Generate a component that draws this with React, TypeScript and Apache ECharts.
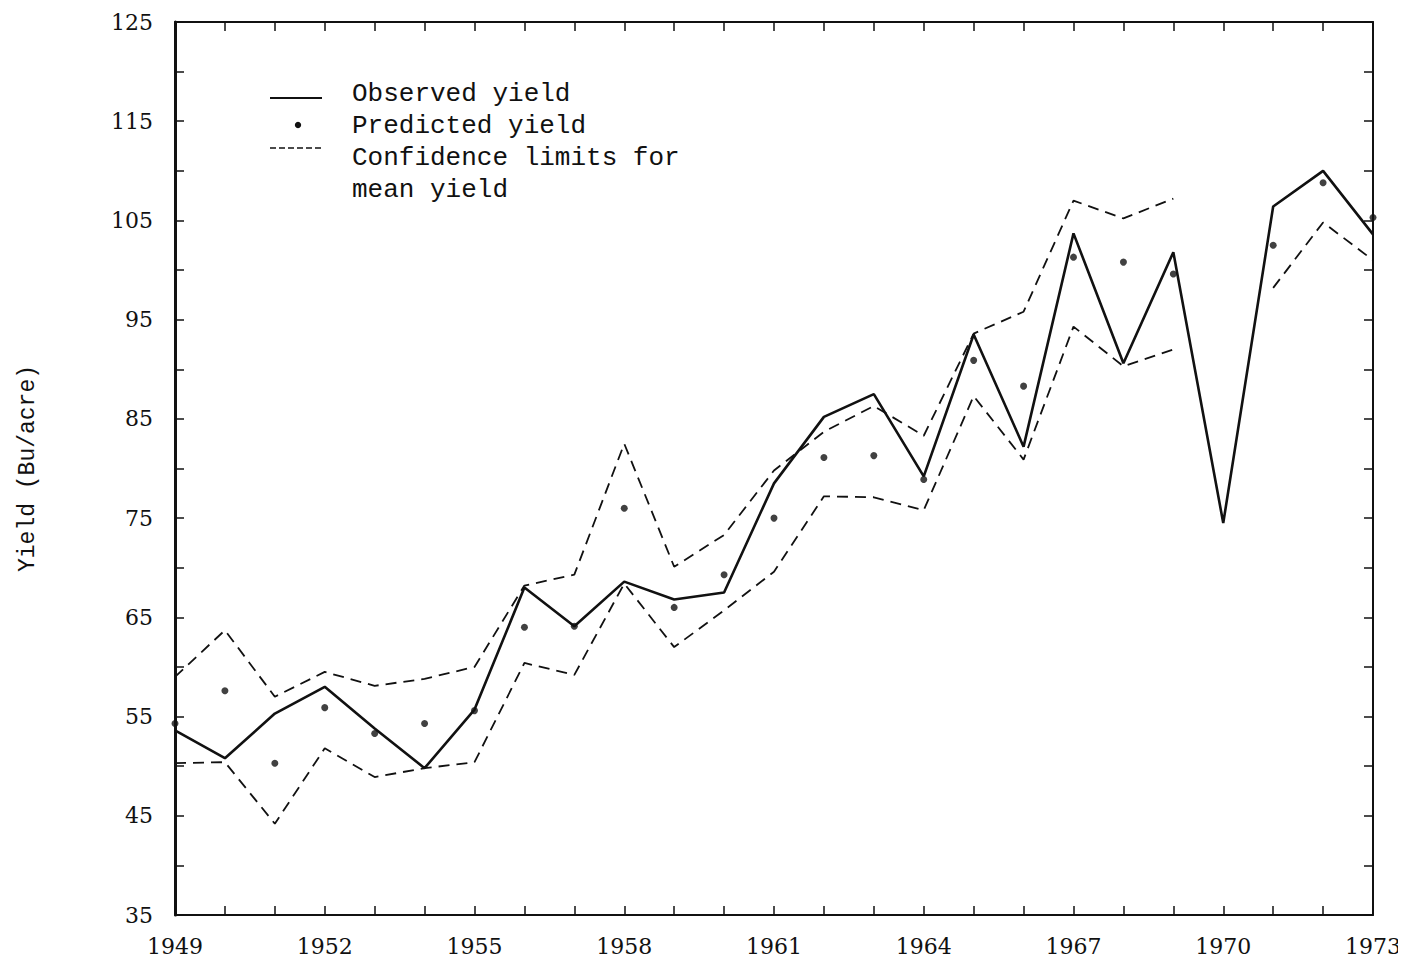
import React, { useEffect, useRef } from "react";
import * as echarts from "echarts";

const years = [1949, 1950, 1951, 1952, 1953, 1954, 1955, 1956, 1957, 1958, 1959, 1960, 1961, 1962, 1963, 1964, 1965, 1966, 1967, 1968, 1969, 1970, 1971, 1972, 1973];
const observed = [53.6, 50.8, 55.3, 58.0, 53.8, 49.8, 55.7, 68.0, 64.1, 68.6, 66.8, 67.5, 78.5, 85.2, 87.5, 79.2, 93.5, 82.2, 103.7, 90.6, 101.8, 74.5, 106.4, 110.0, 103.6];
const predicted: (number | null)[] = [54.3, 57.6, 50.3, 55.9, 53.3, 54.3, 55.6, 64.0, 64.1, 76.0, 66.0, 69.3, 75.0, 81.1, 81.3, 78.9, 90.9, 88.3, 101.3, 100.8, 99.6, null, 102.5, 108.8, 105.3];
const upper: (number | null)[] = [59.0, 63.7, 57.0, 59.5, 58.1, 58.8, 60.0, 68.2, 69.3, 82.5, 70.1, 73.3, 79.8, 83.7, 86.3, 83.3, 93.6, 95.8, 107.0, 105.2, 107.2, null, null, null, null];
const lower: (number | null)[] = [50.3, 50.4, 44.2, 51.8, 48.9, 49.8, 50.4, 60.4, 59.2, 68.4, 62.0, 65.7, 69.6, 77.2, 77.1, 75.8, 87.3, 80.9, 94.3, 90.3, 92.0, null, 98.2, 104.8, 101.0];
const xLabelYears = [1949, 1952, 1955, 1958, 1961, 1964, 1967, 1970, 1973];
const yLabelValues = [35, 45, 55, 65, 75, 85, 95, 105, 115, 125];
const legendItems = ["Observed yield", "Predicted yield", "Confidence limits for", "mean yield"];
const yAxisName = "Yield (Bu/acre)";

const pairs = (arr: (number | null)[]) => years.map((y, i) => [y, arr[i] == null ? "-" : arr[i]]);

export default function App() {
  const ref = useRef<HTMLDivElement>(null);
  useEffect(() => {
    if (!ref.current) return;
    const chart = echarts.init(ref.current, null, { renderer: "svg" });
    const mono = "Liberation Mono";
    const serif = "DejaVu Serif";
    const black = "#111";
    const axisCommon = {
      axisLine: { show: true, lineStyle: { color: black, width: 2 } },
      axisTick: { show: true, inside: true, length: 9, lineStyle: { color: black, width: 1.5 } },
      splitLine: { show: false },
    };
    chart.setOption({
      animation: false,
      backgroundColor: "#fff",
      grid: { left: 167, right: 33, top: 14, bottom: 42, containLabel: false, outerBoundsMode: "none" },
      xAxis: [
        {
          type: "value", min: 1949, max: 1973, interval: 1, position: "bottom",
          ...axisCommon,
          axisLabel: {
            show: true, margin: 20, color: black, fontFamily: serif, fontSize: 22,
            formatter: (v: number) => (xLabelYears.includes(Math.round(v)) ? String(Math.round(v)) : ""),
          },
        },
        {
          type: "value", min: 1949, max: 1973, interval: 1, position: "top",
          ...axisCommon, axisLabel: { show: false },
        },
      ],
      yAxis: [
        {
          type: "value", min: 35, max: 125, interval: 5, position: "left",
          ...axisCommon,
          axisLine: { show: true, lineStyle: { color: black, width: 3 } },
          name: yAxisName, nameLocation: "middle", nameGap: 136, nameRotate: 90,
          nameTextStyle: { fontFamily: mono, fontSize: 23, color: black },
          axisLabel: {
            show: true, margin: 22, color: black, fontFamily: serif, fontSize: 22,
            formatter: (v: number) => (yLabelValues.includes(Math.round(v)) ? String(Math.round(v)) : ""),
          },
        },
        {
          type: "value", min: 35, max: 125, interval: 5, position: "right",
          ...axisCommon, axisLabel: { show: false },
        },
      ],
      series: [
        {
          type: "line", name: "Observed", data: pairs(observed), showSymbol: false, symbol: "none",
          lineStyle: { color: black, width: 2.6 }, connectNulls: false,
        },
        {
          type: "line", name: "Upper", data: pairs(upper), showSymbol: false, symbol: "none",
          lineStyle: { color: black, width: 1.8, type: [11, 7] }, connectNulls: false,
        },
        {
          type: "line", name: "Lower", data: pairs(lower), showSymbol: false, symbol: "none",
          lineStyle: { color: black, width: 1.8, type: [11, 7] }, connectNulls: false,
        },
        {
          type: "scatter", name: "Predicted",
          data: years.map((y, i) => [y, predicted[i]]).filter((d) => d[1] != null),
          symbol: "circle", symbolSize: 7, itemStyle: { color: black },
        },
      ],
      graphic: [
        { type: "line", shape: { x1: 262, y1: 90, x2: 314, y2: 90 }, style: { stroke: black, lineWidth: 2 } },
        { type: "circle", shape: { cx: 290, cy: 117, r: 3.2 }, style: { fill: black } },
        { type: "line", shape: { x1: 262, y1: 140, x2: 314, y2: 140 }, style: { stroke: black, lineWidth: 1.5, lineDash: [6, 3] } },
        ...legendItems.map((t, i) => ({
          type: "text", x: 344, y: 86 + i * 32,
          style: { text: t, fill: black, font: `26px "${mono}"`, textVerticalAlign: "middle" },
        })),
      ],
    });
    return () => chart.dispose();
  }, []);
  return <div ref={ref} style={{ width: 1398, height: 949, marginRight: -8 }} />;
}
